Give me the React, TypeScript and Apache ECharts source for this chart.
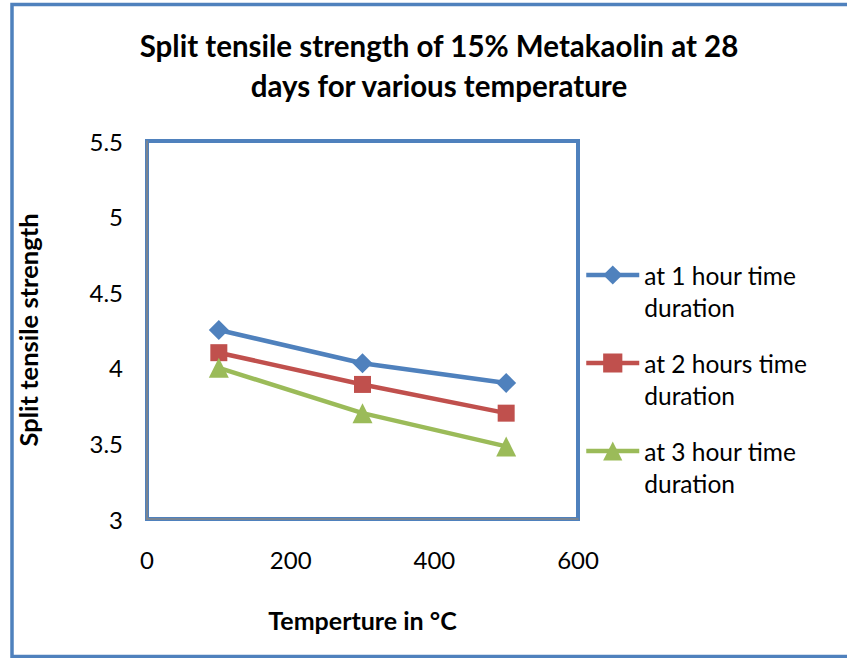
import React, { useEffect, useRef } from "react";
import * as echarts from "echarts";

const temperatures = [100, 300, 500];
const oneHour = [4.25, 4.03, 3.9];
const twoHours = [4.1, 3.89, 3.7];
const threeHours = [4.0, 3.7, 3.48];
const seriesNames = [
  "at 1 hour time\nduration",
  "at 2 hours time\nduration",
  "at 3 hour time\nduration",
];
const colors = ["#4F81BD", "#C0504D", "#9BBB59"];
const symbols = ["diamond", "rect", "triangle"];
const FONT = "Lato, 'Open Sans', sans-serif";

export default function App() {
  const ref = useRef<HTMLDivElement>(null);
  useEffect(() => {
    if (!ref.current) return;
    const chart = echarts.init(ref.current, null, { renderer: "svg" });
    const datasets = [oneHour, twoHours, threeHours];
    chart.setOption({
      animation: false,
      backgroundColor: "#ffffff",
      textStyle: { fontFamily: FONT },
      title: {
        text: "Split tensile strength of 15% Metakaolin at 28\ndays for various temperature",
        left: 434,
        textAlign: "center",
        top: 20,
        textStyle: {
          fontFamily: FONT,
          fontSize: 29.5,
          fontWeight: "bold",
          color: "#000",
          lineHeight: 40,
        },
      },
      graphic: [
        {
          type: "rect",
          shape: { x: 12, y: 4.5, width: 850, height: 652 },
          style: { fill: "none", stroke: "#4F81BD", lineWidth: 3.5 },
          silent: true,
          z: -1,
        },
      ],
      legend: {
        orient: "vertical",
        left: 579,
        top: 222,
        itemWidth: 53,
        itemHeight: 24,
        itemGap: -8,
        lineStyle: { width: 4.5 },
        formatter: (name: string) => " \n" + name,
        textStyle: {
          fontFamily: FONT,
          fontSize: 24.5,
          color: "#000",
          lineHeight: 32,
        },
        data: seriesNames,
      },
      grid: {
        left: 147,
        right: 269,
        top: 141,
        bottom: 139,
        show: true,
        borderColor: "#4F81BD",
        borderWidth: 4,
        backgroundColor: "#ffffff",
      },
      xAxis: {
        type: "value",
        min: 0,
        max: 600,
        interval: 200,
        name: "Temperture in °C",
        nameLocation: "middle",
        nameGap: 88,
        nameTextStyle: {
          fontFamily: FONT,
          fontSize: 25,
          fontWeight: "bold",
          color: "#000",
        },
        axisLine: { show: true, lineStyle: { color: "#868686", width: 1.5 } },
        axisTick: { show: false },
        splitLine: { show: false },
        axisLabel: {
          fontFamily: FONT,
          fontSize: 24,
          color: "#000",
          margin: 28,
        },
      },
      yAxis: {
        type: "value",
        min: 3,
        max: 5.5,
        interval: 0.5,
        name: "Split tensile strength",
        nameLocation: "middle",
        nameGap: 106,
        nameRotate: 90,
        nameTextStyle: {
          fontFamily: FONT,
          fontSize: 25.5,
          fontWeight: "bold",
          color: "#000",
        },
        axisLine: { show: true, lineStyle: { color: "#868686", width: 1.5 } },
        axisTick: { show: false },
        splitLine: { show: false },
        axisLabel: {
          fontFamily: FONT,
          fontSize: 24,
          color: "#000",
          margin: 24,
        },
      },
      series: datasets.map((vals, i) => ({
        name: seriesNames[i],
        type: "line",
        data: temperatures.map((t, j) => [t, vals[j]]),
        symbol: symbols[i],
        symbolSize: i === 1 ? 17 : 20,
        color: colors[i],
        lineStyle: { width: 4.5, color: colors[i] },
        itemStyle: { color: colors[i] },
      })),
    });
    return () => chart.dispose();
  }, []);
  return (
    <div
      ref={ref}
      style={{ position: "absolute", left: 0, top: 0, width: 847, height: 658 }}
    />
  );
}
